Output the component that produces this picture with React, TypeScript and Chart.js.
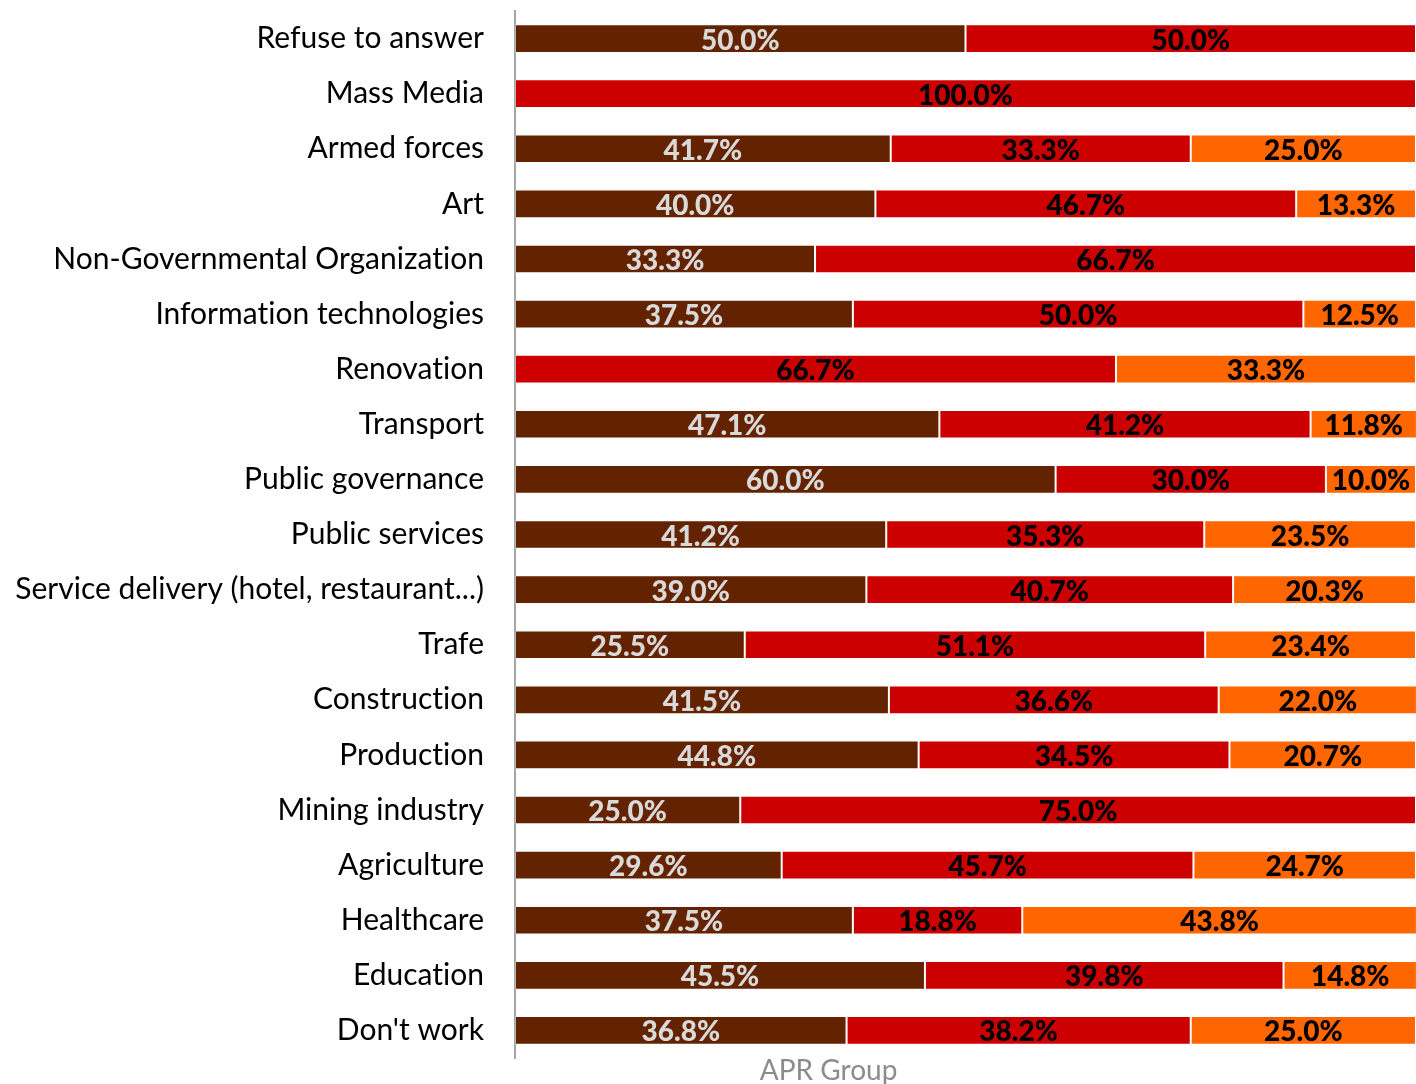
import React, { useEffect, useRef } from "react";
import { Chart, registerables } from "chart.js";

Chart.register(...registerables);

const categories = [
  "Refuse to answer",
  "Mass Media",
  "Armed forces",
  "Art",
  "Non-Governmental Organization",
  "Information technologies",
  "Renovation",
  "Transport",
  "Public governance",
  "Public services",
  "Service delivery (hotel, restaurant...)",
  "Trafe",
  "Construction",
  "Production",
  "Mining industry",
  "Agriculture",
  "Healthcare",
  "Education",
  "Don't work",
];

const seriesA = [50.0, 0, 41.7, 40.0, 33.3, 37.5, 0, 47.1, 60.0, 41.2, 39.0, 25.5, 41.5, 44.8, 25.0, 29.6, 37.5, 45.5, 36.8];
const seriesB = [50.0, 100.0, 33.3, 46.7, 66.7, 50.0, 66.7, 41.2, 30.0, 35.3, 40.7, 51.1, 36.6, 34.5, 75.0, 45.7, 18.8, 39.8, 38.2];
const seriesC = [0, 0, 25.0, 13.3, 0, 12.5, 33.3, 11.8, 10.0, 23.5, 20.3, 23.4, 22.0, 20.7, 0, 24.7, 43.8, 14.8, 25.0];

const seriesNames = ["Group 1", "Group 2", "Group 3"];
const seriesColors = ["#632300", "#CC0000", "#FF6600"];
const labelColors = ["#D9D9D9", "#000000", "#000000"];
const axisTitle = "APR Group";

const FONT = "Lato, 'Open Sans', sans-serif";

const valueLabelPlugin = {
  id: "valueLabels",
  beforeDraw(chart: any) {
    try {
      chart.ctx.letterSpacing = "0.01px";
    } catch (e) {}
  },
  afterDatasetsDraw(chart: any) {
    const ctx = chart.ctx;
    ctx.save();
    ctx.font = `900 28px ${FONT}`;
    ctx.textAlign = "center";
    ctx.textBaseline = "alphabetic";
    chart.data.datasets.forEach((ds: any, di: number) => {
      const meta = chart.getDatasetMeta(di);
      meta.data.forEach((el: any, i: number) => {
        const v = ds.data[i];
        if (!v) return;
        const cx = (el.x + el.base) / 2;
        ctx.fillStyle = labelColors[di];
        ctx.fillText(v.toFixed(1) + "%", cx, el.y + 11);
      });
    });
    ctx.restore();
  },
  afterDraw(chart: any) {
    const ctx = chart.ctx;
    const area = chart.chartArea;
    ctx.save();
    ctx.font = `28px ${FONT}`;
    ctx.fillStyle = "#8C8C8C";
    ctx.textAlign = "center";
    ctx.textBaseline = "alphabetic";
    ctx.fillText(axisTitle, area.left + (area.right - area.left) * 0.348, area.bottom + 22);
    ctx.restore();
  },
};

export default function App() {
  const ref = useRef<HTMLCanvasElement | null>(null);
  useEffect(() => {
    if (!ref.current) return;
    const chart = new Chart(ref.current, {
      type: "bar",
      data: {
        labels: categories,
        datasets: [seriesA, seriesB, seriesC].map((d, i) => ({
          label: seriesNames[i],
          data: d,
          backgroundColor: seriesColors[i],
          borderColor: "rgba(255,255,255,0.2)",
          borderWidth: 1,
          borderSkipped: false,
          categoryPercentage: 1,
          barPercentage: 0.52,
        })),
      },
      options: {
        indexAxis: "y",
        animation: false,
        responsive: false,
        maintainAspectRatio: false,
        layout: { padding: { top: 11, bottom: 26, left: 0, right: 0 } },
        plugins: { legend: { display: false }, tooltip: { enabled: false }, title: { display: false } },
        scales: {
          x: {
            stacked: true,
            min: 0,
            max: 100,
            display: true,
            ticks: { display: false },
            grid: { display: false, drawTicks: false },
            border: { display: false },
          },
          y: {
            stacked: true,
            ticks: {
              color: "#000000",
              font: { family: FONT, size: 30 },
              padding: 31,
              autoSkip: false,
            },
            grid: { display: false, drawTicks: false },
            border: { display: true, color: "#A6A6A6", width: 2 },
            afterFit: (scale: any) => {
              scale.width = 515;
              scale.paddingTop = 0;
              scale.paddingBottom = 0;
            },
          },
        },
      } as any,
      plugins: [valueLabelPlugin],
    });
    return () => chart.destroy();
  }, []);
  return (
    <div style={{ position: "fixed", left: 0, top: 0, width: 1416, height: 1084, background: "#fff" }}>
      <canvas ref={ref} width={1416} height={1084} style={{ display: "block", width: 1416, height: 1084 }} />
    </div>
  );
}
